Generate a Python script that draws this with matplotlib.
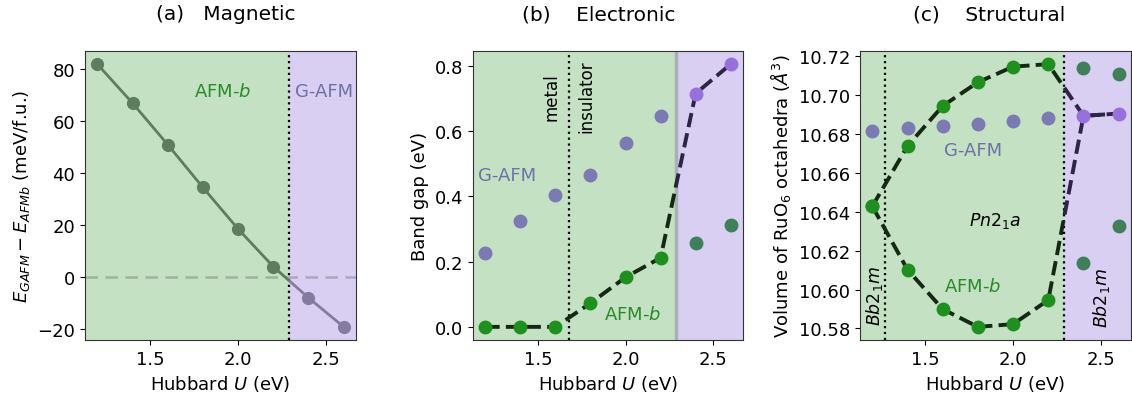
import numpy as np
import matplotlib
matplotlib.use("Agg")
import matplotlib.pyplot as plt
from matplotlib.patches import Rectangle

# ---------------- data ----------------
U = np.array([1.2, 1.4, 1.6, 1.8, 2.0, 2.2, 2.4, 2.6])
U_c = 2.29          # magnetic transition (AFM-b -> G-AFM)
U_mit = 1.68        # metal-insulator transition
U_struct = 1.273    # Bb2_1m -> Pn2_1a

dE = np.array([82, 67, 51, 34.5, 18.5, 4, -8, -19.2])

gap_afmb = np.array([0.0, 0.0, 0.0, 0.0726, 0.152, 0.2115, 0.258, 0.3136])
gap_gafm = np.array([0.227, 0.324, 0.4055, 0.464, 0.564, 0.647, 0.715, 0.805])

vol_afmb_1 = np.array([10.6428, 10.6738, 10.6944, 10.7066, 10.7146, 10.7159, 10.7138, 10.7107])
vol_afmb_2 = np.array([10.6428, 10.6102, 10.5899, 10.5808, 10.5822, 10.5946, 10.6135, 10.6328])
vol_gafm = np.array([10.6814, 10.6829, 10.6843, 10.6853, 10.6867, 10.6881, 10.6893, 10.6905])

titles = ["(a)   Magnetic", "(b)    Electronic", "(c)    Structural"]
title_x = [0.518, 0.467, 0.478]

# ---------------- style ----------------
plt.rcParams['font.family'] = ['DejaVu Sans']
plt.rcParams['font.size'] = 13
plt.rcParams['mathtext.fontset'] = 'dejavusans'

bg_green = '#c4e1c4'
bg_purple = '#d9cff2'
c_a_green = '#5e7d5e'
c_a_purple = '#857aa0'
c_gafm_ng = '#7b7ab2'
c_afmb_gs = '#1f8f1f'
c_gafm_gs = '#9870dc'
c_afmb_ng = '#3f7f5a'
c_dash_green = '#142814'
c_dash_purple = '#2e2448'
c_txt_green = '#2a8a2a'
c_txt_purple = '#7070a8'
spine_c = '#333333'

fig = plt.figure(figsize=(11.32, 4.02), dpi=100)
W, H = 1132, 402
def axpos(l, r, t, b):
    return [l / W, (H - b) / H, (r - l) / W, (b - t) / H]

axA = fig.add_axes(axpos(85, 356, 52, 341))
axB = fig.add_axes(axpos(473, 743, 52, 341))
axC = fig.add_axes(axpos(860, 1131, 52, 341))

left_mask = U < U_c
right_mask = ~left_mask


def clipped_line(ax, x, y, c_left, c_right, **kw):
    for side, col in (("L", c_left), ("R", c_right)):
        ln, = ax.plot(x, y, color=col, **kw)
        if side == "L":
            rect = Rectangle((-100, -1e4), U_c + 100, 2e4, transform=ax.transData)
        else:
            rect = Rectangle((U_c, -1e4), 100, 2e4, transform=ax.transData)
        ln.set_clip_path(rect)


def shade(ax):
    x0, x1 = ax.get_xlim()
    ax.axvspan(x0, U_c, color=bg_green, zorder=0, lw=0)
    ax.axvspan(U_c, x1, color=bg_purple, zorder=0, lw=0)
    ax.set_xlim(x0, x1)


for ax, t, tx in zip((axA, axB, axC), titles, title_x):
    ax.set_title(t, pad=23, fontsize=14.5, x=tx)
    for s in ax.spines.values():
        s.set_color(spine_c)
    ax.set_xlabel(r'Hubbard $U$ (eV)')

DASH = dict(lw=2.8, ls='--', dashes=(3.7, 1.6))

# ---------- (a) ----------
clipped_line(axA, U, dE, c_a_green, c_a_purple, lw=2, zorder=3)
axA.plot(U[left_mask], dE[left_mask], 'o', color=c_a_green, ms=8.5, zorder=4)
axA.plot(U[right_mask], dE[right_mask], 'o', color=c_a_purple, ms=8.5, zorder=4)
shade(axA)
axA.axhline(0, color='gray', alpha=0.5, ls='--', lw=1.8, dashes=(5, 3), zorder=1)
axA.axvline(U_c, color='black', ls=':', lw=1.6, zorder=2)
axA.text(1.91, 71.5, r'AFM-$b$', color=c_txt_green, ha='center', va='center')
axA.text(2.49, 71.5, 'G-AFM', color=c_txt_purple, ha='center', va='center')
axA.set_ylabel(r'$E_{GAFM}-E_{AFMb}$ (meV/f.u.)')
axA.set_yticks([-20, 0, 20, 40, 60, 80])
axA.set_xticks([1.5, 2.0, 2.5])

# ---------- (b) ----------
gap_gs = np.where(left_mask, gap_afmb, gap_gafm)
axB.plot(U[left_mask], gap_gafm[left_mask], 'o', color=c_gafm_ng, ms=9, zorder=3)
axB.plot(U[right_mask], gap_afmb[right_mask], 'o', color=c_afmb_ng, ms=9, zorder=3)
clipped_line(axB, U, gap_gs, c_dash_green, c_dash_purple, zorder=4, **DASH)
axB.plot(U[left_mask], gap_gs[left_mask], 'o', color=c_afmb_gs, ms=9, zorder=5)
axB.plot(U[right_mask], gap_gs[right_mask], 'o', color=c_gafm_gs, ms=9, zorder=5)
shade(axB)
axB.axvline(U_c, color='#a8b0ba', lw=2.5, zorder=1)
axB.axvline(U_mit, color='black', ls=':', lw=1.6, zorder=2)
axB.text(U_mit - 0.1, 0.708, 'metal', rotation=90, ha='center', va='center', fontsize=12)
axB.text(U_mit + 0.097, 0.708, 'insulator', rotation=90, ha='center', va='center', fontsize=12)
axB.text(1.325, 0.464, 'G-AFM', color=c_txt_purple, ha='center', va='center')
axB.text(2.04, 0.04, r'AFM-$b$', color=c_txt_green, ha='center', va='center')
axB.set_ylabel('Band gap (eV)')
axB.set_yticks([0.0, 0.2, 0.4, 0.6, 0.8])
axB.set_xticks([1.5, 2.0, 2.5])

# ---------- (c) ----------
vol_gs_1 = np.where(left_mask, vol_afmb_1, vol_gafm)
vol_gs_2 = np.where(left_mask, vol_afmb_2, vol_gafm)
axC.plot(U[left_mask], vol_gafm[left_mask], 'o', color=c_gafm_ng, ms=9, zorder=3)
axC.plot(U[right_mask], vol_afmb_1[right_mask], 'o', color=c_afmb_ng, ms=9, zorder=3)
axC.plot(U[right_mask], vol_afmb_2[right_mask], 'o', color=c_afmb_ng, ms=9, zorder=3)
for v in (vol_gs_1, vol_gs_2):
    clipped_line(axC, U, v, c_dash_green, c_dash_purple, zorder=4, **DASH)
axC.plot(U[left_mask], vol_gs_1[left_mask], 'o', color=c_afmb_gs, ms=9, zorder=5)
axC.plot(U[left_mask], vol_gs_2[left_mask], 'o', color=c_afmb_gs, ms=9, zorder=5)
axC.plot(U[right_mask], vol_gs_1[right_mask], 'o', color=c_gafm_gs, ms=9, zorder=5)
shade(axC)
axC.axvline(U_struct, color='black', ls=':', lw=1.6, zorder=2)
axC.axvline(U_c, color='black', ls=':', lw=1.6, zorder=2)
axC.text(1.21, 10.597, r'$\mathit{Bb2_1m}$', rotation=90, ha='center', va='center', fontsize=12.5)
axC.text(2.503, 10.596, r'$\mathit{Bb2_1m}$', rotation=90, ha='center', va='center', fontsize=12.5)
axC.text(1.90, 10.636, r'$\mathit{Pn2_1a}$', ha='center', va='center', fontsize=12.5)
axC.text(1.77, 10.672, 'G-AFM', color=c_txt_purple, ha='center', va='center')
axC.text(1.77, 10.6016, r'AFM-$b$', color=c_txt_green, ha='center', va='center')
axC.set_ylabel(r'Volume of RuO$_6$ octahedra ($Å^3$)')
axC.set_yticks([10.58, 10.60, 10.62, 10.64, 10.66, 10.68, 10.70, 10.72])
axC.yaxis.set_major_formatter(matplotlib.ticker.FormatStrFormatter('%.2f'))
axC.set_xticks([1.5, 2.0, 2.5])

fig.savefig('out.png', dpi=100)
